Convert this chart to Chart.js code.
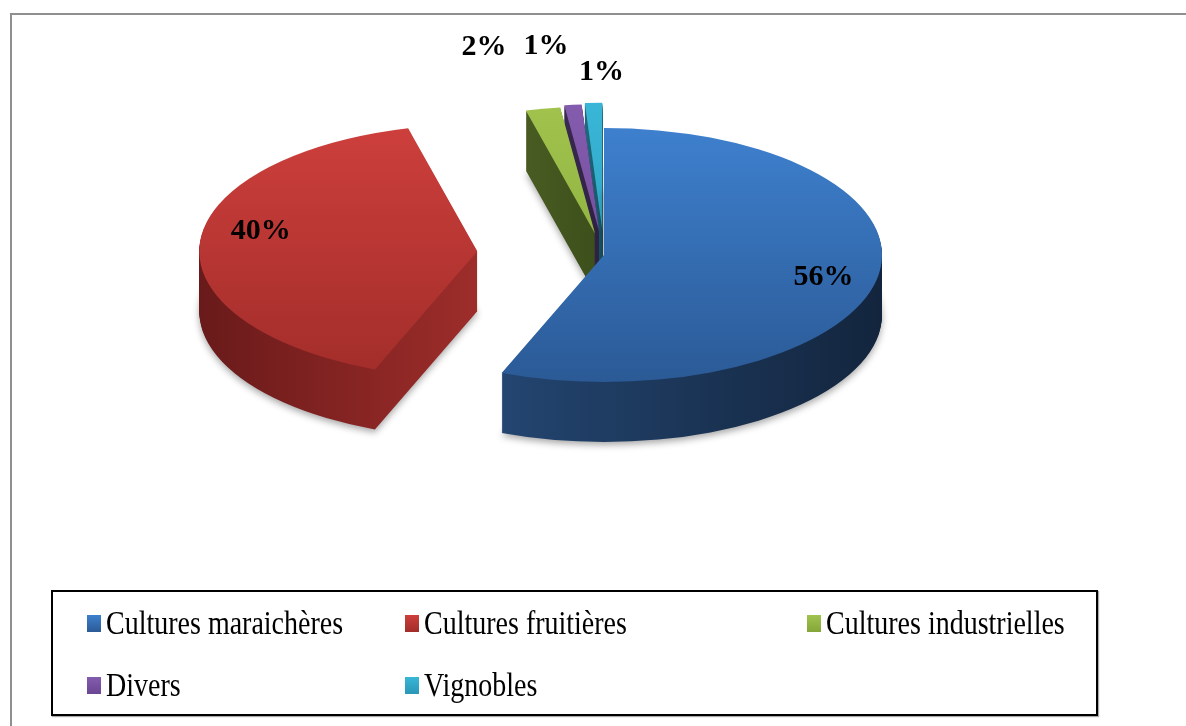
<!DOCTYPE html>
<html>
<head>
<meta charset="utf-8">
<script src="https://cdn.jsdelivr.net/npm/chart.js@4.4.0/dist/chart.umd.min.js"></script>
<style>
    html, body { margin: 0; padding: 0; background: #fff; }
    body { width: 1186px; height: 726px; position: relative; overflow: hidden; font-family: "Liberation Serif", "Times New Roman", serif; }
    #frame { position: absolute; left: 10px; top: 13px; width: 1200px; height: 740px; border-top: 2px solid #8f8f8f; border-left: 2px solid #8f8f8f; }
    #chart { position: absolute; left: 0; top: 0; }
    #legend { position: absolute; left: 51px; top: 590px; width: 1009px; height: 122px; padding-left: 34px; border: 2px solid #000; box-shadow: 1px 1px 1px #aaa; display: grid; grid-template-columns: 318px 402px auto; grid-auto-rows: 62px; }
    .item { display: flex; align-items: center; font-size: 28px; line-height: 1; color: #000; white-space: nowrap; }
    .item span.txt { display: inline-block; transform: scaleY(1.18); }
    .swatch { width: 14px; height: 17px; margin-right: 5px; }
</style>
</head>
<body>
<div id="frame"></div>
<canvas id="chart" width="1186" height="726"></canvas>
<div id="legend"></div>
<script>
// Répartition des superficies (%)
var categories = ['Cultures maraichères', 'Cultures fruitières', 'Cultures industrielles', 'Divers', 'Vignobles'];
var shares = [56, 40, 2, 1, 1];

// couleurs : dessus (haut, bas) et côté (gauche, droite)
var topColors = [['#3e80ce', '#2b5a96'], ['#cd3f3c', '#a22d2a'], ['#a1c34d', '#84a639'], ['#845cae', '#6a4693'], ['#39b6d7', '#2a97b6']];
var sideColors = [['#234570', '#13253d'], ['#691a1a', '#9d2d2a'], ['#485c22', '#3d4f1b'], ['#3a2950', '#2e2042'], ['#1f6a80', '#17505f']];

// pie en 3D : ellipse + épaisseur, parts éclatées
var pie3d = {
    id: 'pie3d',
    beforeDatasetsDraw: function (chart, args, opts) {
        var ctx = chart.ctx;
        var meta = chart.getDatasetMeta(0);
        var total = shares.reduce(function (a, b) { return a + b; }, 0);

        var slices = meta.data.map(function (arc, i) {
            var p = arc.getProps(['x', 'y', 'startAngle', 'endAngle', 'outerRadius'], true);
            var mid = (p.startAngle + p.endAngle) / 2;
            var e = opts.explode[i] || 0;
            return {
                i: i, start: p.startAngle, end: p.endAngle, mid: mid,
                rx: p.outerRadius, ry: p.outerRadius * opts.tilt,
                cx: p.x + Math.cos(mid) * e,
                cy: p.y + Math.sin(mid) * e * opts.tilt
            };
        });

        function path(s, dy) {
            ctx.beginPath();
            ctx.moveTo(s.cx, s.cy + dy);
            ctx.ellipse(s.cx, s.cy + dy, s.rx, s.ry, 0, s.start, s.end);
            ctx.closePath();
        }

        function xRange(s) {
            var min = s.cx, max = s.cx;
            for (var t = 0; t <= 40; t++) {
                var a = s.start + (s.end - s.start) * t / 40;
                var x = s.cx + Math.cos(a) * s.rx;
                min = Math.min(min, x); max = Math.max(max, x);
            }
            return [min, max];
        }

        var order = slices.slice().sort(function (a, b) { return a.cy - b.cy; });
        order.forEach(function (s) {
            var r = xRange(s);
            var side = ctx.createLinearGradient(r[0], 0, r[1] + 1, 0);
            side.addColorStop(0, sideColors[s.i][0]);
            side.addColorStop(1, sideColors[s.i][1]);

            ctx.save();
            ctx.fillStyle = side;
            for (var d = opts.depth; d >= 1; d--) {
                if (d === opts.depth) {
                    ctx.shadowColor = 'rgba(0,0,0,0.35)';
                    ctx.shadowBlur = 7;
                    ctx.shadowOffsetY = 3;
                } else {
                    ctx.shadowColor = 'transparent';
                }
                path(s, d);
                ctx.fill();
            }
            ctx.restore();

            var top = ctx.createLinearGradient(0, s.cy - s.ry, 0, s.cy + s.ry);
            top.addColorStop(0, topColors[s.i][0]);
            top.addColorStop(1, topColors[s.i][1]);
            ctx.fillStyle = top;
            path(s, 0);
            ctx.fill();
        });

        // étiquettes de pourcentage
        ctx.save();
        ctx.font = 'bold 30px "Liberation Serif", "Times New Roman", serif';
        ctx.fillStyle = '#000';
        ctx.textAlign = 'center';
        ctx.textBaseline = 'middle';
        slices.forEach(function (s) {
            var f = opts.labelAt[s.i];
            var sh = opts.labelShift[s.i];
            var x = s.cx + Math.cos(s.mid) * s.rx * f + sh[0];
            var y = s.cy + Math.sin(s.mid) * s.ry * f + sh[1];
            ctx.fillText(Math.round(shares[s.i] / total * 100) + '%', x, y);
        });
        ctx.restore();

        return false;
    }
};

var chart = new Chart(document.getElementById('chart'), {
    type: 'pie',
    data: {
        labels: categories,
        datasets: [{
            data: shares,
            backgroundColor: topColors.map(function (c) { return c[0]; }),
            borderWidth: 0
        }]
    },
    options: {
        responsive: false,
        animation: false,
        events: [],
        radius: 278,
        layout: { padding: { left: 22, right: 0, top: 0, bottom: 216 } },
        plugins: {
            legend: { display: false },
            tooltip: { enabled: false },
            pie3d: {
                tilt: 0.457,
                depth: 60,
                explode: [0, 127, 48, 52, 55],
                labelAt: [0.8, 0.78, 1, 1, 1],
                labelShift: [[1, 3], [0, -14], [-59, -61], [-27, -59], [8, -31]]
            }
        }
    },
    plugins: [pie3d]
});

// légende
var legend = document.getElementById('legend');
chart.data.labels.forEach(function (label, i) {
    var item = document.createElement('div');
    item.className = 'item';
    var sw = document.createElement('span');
    sw.className = 'swatch';
    sw.style.background = 'linear-gradient(' + topColors[i][0] + ', ' + topColors[i][1] + ')';
    var txt = document.createElement('span');
    txt.className = 'txt';
    txt.textContent = label;
    item.appendChild(sw);
    item.appendChild(txt);
    legend.appendChild(item);
});
</script>
</body>
</html>
